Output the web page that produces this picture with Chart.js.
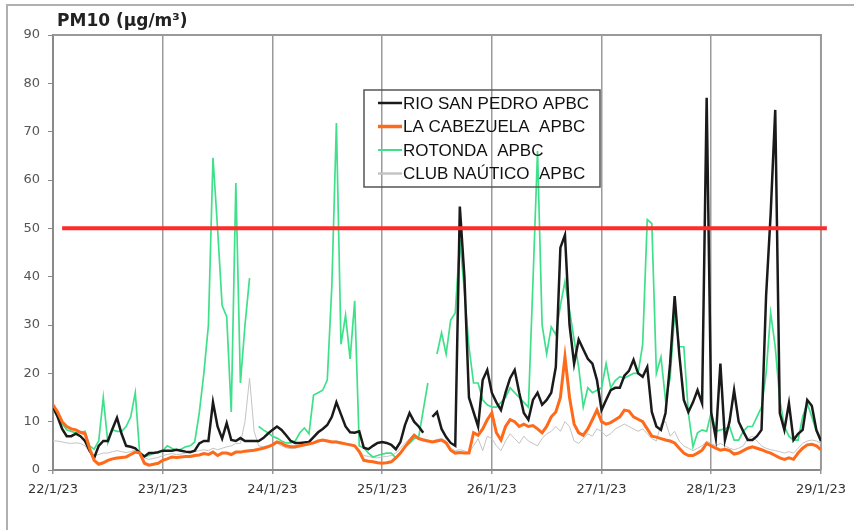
<!DOCTYPE html>
<html>
<head>
<meta charset="utf-8">
<script src="https://cdn.jsdelivr.net/npm/chart.js@4.4.0/dist/chart.umd.min.js"></script>
<style>
  html, body { margin: 0; padding: 0; background: #fff; overflow: hidden; }
  canvas { display: block; }
</style>
</head>
<body>
<canvas id="chart-pm10" width="854" height="530"></canvas>
<script>
// Tick labels (one per day, every 24 h)
const dayLabels = ['22/1/23', '23/1/23', '24/1/23', '25/1/23', '26/1/23', '27/1/23', '28/1/23', '29/1/23'];
const yTitle = 'PM10 (µg/m³)';
const seriesNames = ['RIO SAN PEDRO APBC', 'LA CABEZUELA  APBC', 'ROTONDA  APBC', 'CLUB NAÚTICO  APBC'];

// Hourly values, 22/1/23 00h .. 29/1/23 00h (one row per day)
const rioSanPedro = [
  13, 11, 8.5, 7, 7, 7.5, 7, 6, 4, 2.5, 5, 6, 6, 8.5, 10.8, 7.5, 5, 4.8, 4.5, 3.5, 2.8, 3.5, 3.5, 3.7,
  4, 4, 4, 4.2, 4, 3.8, 3.7, 4, 5.5, 6, 6, 14, 9, 6.5, 9.7, 6.2, 6, 6.6, 6, 6, 6, 6, 6.6, 7.5,
  8.3, 9, 8.3, 7.2, 6, 5.6, 5.6, 5.7, 5.8, 6.8, 7.8, 8.5, 9.3, 11, 14, 11.5, 9, 7.8, 7.7, 8, 4.6, 4.3, 5, 5.6,
  5.8, 5.6, 5.2, 4.3, 5.8, 9.3, 11.8, 10, 9, 7.7, null, 11, 12, 8.5, 6.8, 5.6, 5, 54.5, 40, 15, 12, 9, 18.6, 20.7,
  16, 14, 12.4, 16, 19, 20.7, 16, 11.8, 10.4, 14.5, 16, 13.5, 14.5, 16, 21.3, 46, 48.6, 30, 22, 27, 25, 23, 22, 18.6,
  12.4, 14.5, 16.5, 17, 17, 19.5, 20.5, 22.8, 20, 19.3, 21.3, 12, 9, 8.3, 11.8, 22, 36, 24, 14.5, 12, 14, 16.5, 13.8, 77,
  11.8, 6.6, 22, 6.2, 10, 16.5, 10, 8, 6.2, 6.2, 7, 8.3, 36, 53, 74.5, 11.8, 8.3, 13.8, 6.2, 7.5, 8.3, 14.5, 13.3, 8.3,
  6
];
const laCabezuela = [
  13.5, 12, 10, 9, 8.5, 8.3, 7.8, 7.5, 4.5, 2, 1.2, 1.5, 2, 2.3, 2.5, 2.6, 2.7, 3.2, 3.7, 3.5, 1.4, 1, 1.2, 1.4,
  2, 2.3, 2.7, 2.6, 2.7, 2.8, 2.8, 3, 3.1, 3.4, 3.2, 3.7, 3, 3.5, 3.5, 3.2, 3.7, 3.7, 3.9, 4, 4.1, 4.3, 4.5, 4.8,
  5.2, 5.8, 5.5, 5, 4.8, 4.8, 5, 5.2, 5.4, 5.6, 6, 6.2, 6, 5.8, 5.8, 5.6, 5.4, 5.2, 5, 3.8, 2, 1.8, 1.7, 1.5,
  1.4, 1.5, 1.7, 2.5, 3.5, 4.8, 6, 7.2, 6.5, 6.2, 6, 5.8, 6, 6.2, 5.6, 4.1, 3.5, 3.6, 3.5, 3.5, 7.7, 7.2, 8.5, 10.4,
  11.8, 7.7, 6.2, 9, 10.4, 10, 9, 9.5, 9, 9.2, 8.5, 7.7, 9, 11, 12, 15, 23.4, 15, 9.5, 7.7, 7.2, 8.5, 10.4, 12.4,
  10, 9.5, 9.8, 10.4, 11, 12.4, 12.2, 11, 10.5, 10, 8.5, 7, 6.8, 6.5, 6.2, 6, 5.6, 4.5, 3.5, 3, 3, 3.5, 4.1, 5.5,
  5, 4.5, 4.1, 4.3, 4, 3.3, 3.5, 4, 4.5, 4.8, 4.5, 4.2, 3.8, 3.5, 3, 2.5, 2.2, 2.5, 2.2, 3.5, 4.5, 5.2, 5.3, 5,
  4.2
];
const rotonda = [
  12.8, 11, 9.5, 8.3, 8, 7.7, 7.8, 8, 5, 4.3, 6, 15, 5.6, 8.3, 8, 8, 9, 11, 16, 3, 2.8, 3, 3.5, 3.5,
  4, 5, 4.5, 4.1, 4.3, 4.8, 5, 5.8, 11.8, 20, 30, 64.6, 50, 34, 31.7, 12, 59.4, 18, 30, 39.7, null, 9, 8.3, 7.7,
  7, 6.6, 6, 5.6, 5.6, 6, 7.7, 8.7, 7.5, 15.5, 16, 16.5, 18.6, 38, 71.8, 26, 32, 23, 35, 5, 4.6, 3.5, 2.7, 3,
  3.3, 3.5, 3.5, 2.5, 3.5, 4.8, 5.5, 6.5, 6.8, 12.4, 18, null, 24, 28.4, 24, 31, 32.5, 47.6, 37, 25.5, 18, 18, 14.5, 13.5,
  13, 13, 14, 15, 17, 16, 15, 14, 13, 39, 66, 30, 24, 29.6, 28, 34, 39, 33, 27, 21.3, 13, 17, 16, 16.5,
  17, 22, 17, 18.5, 19.3, 19, 19.5, 20, 20, 26, 51.8, 51, 20, 23.4, 14.5, 19, 32.5, 25.5, 25.5, 11.8, 4.8, 7.7, 8.3, 8,
  12, 8, 8.3, 8.5, 9, 6.2, 6.2, 8, 9, 9, 11, 13, 20, 32.5, 25.5, 14.5, 9, 7, 6.2, 6.2, 11, 13.8, 11, 8,
  6
];
const clubNautico = [
  6, 6, 5.8, 5.6, 5.5, 5.6, 5.5, 5, 3.7, 3, 3.2, 3.5, 3.5, 3.8, 4, 3.8, 3.6, 3.8, 4.2, 3.5, 2.5, 2.2, 2.4, 2.6,
  3, 3.2, 3.4, 3.2, 3.3, 3.5, 3.6, 3.8, 4, 4.2, 4, 4.5, 4.2, 4.5, 4.8, 5, 5.5, 5.5, 10, 19, 8, 5, 4.8, 5,
  5.2, 5.5, 5, 4.6, 4.4, 4.5, 4.8, 5, 5.2, 5.5, 5.8, 6, 6.2, 6, 6, 5.8, 5.5, 5.4, 5.2, 4, 3, 2.8, 2.6, 2.5,
  2.7, 2.8, 3, 3.5, 4.5, 5.5, 6.5, 7.5, 6.8, 6.5, 6.2, 6, 6.3, 6.5, 6, 4.5, 4, 4.2, 4, 3.5, 5, 6.5, 4, 7,
  6.5, 5, 4, 6, 7.5, 6.5, 5.5, 7, 6, 5.5, 5, 6.5, 7.5, 8, 9, 8, 10, 9, 6, 5.5, 6.5, 7.5, 7, 8.5,
  8, 7, 7.5, 8.5, 9, 9.5, 9, 8.5, 8, 8.5, 7.5, 6.5, 6, 9.5, 10, 7, 8, 6, 5, 4.5, 4, 4.5, 5, 6,
  5.5, 5, 5.5, 5, 4.5, 4.2, 4.5, 5, 6.5, 7, 6, 5, 4.5, 4.2, 4, 3.8, 3.5, 3.8, 3.5, 4.5, 5.5, 6, 6.2, 6,
  5.5
];
// Limit value (50 µg/m³) and the hours the red line spans
const limitValue = 50;
const limitSpan = [2, 169.3];

const COLORS = {
  rio: '#1a1a1a',
  cab: '#ff6a1a',
  rot: '#3fe08a',
  club: '#c4c4c4',
  limit: '#ff2a2a',
};

function toPoints(values) {
  return values.map((v, i) => ({ x: i, y: v }));
}

const legendItems = [
  { label: seriesNames[0], color: COLORS.rio, width: 2.5 },
  { label: seriesNames[1], color: COLORS.cab, width: 3.5 },
  { label: seriesNames[2], color: COLORS.rot, width: 2 },
  { label: seriesNames[3], color: COLORS.club, width: 2.5 },
];

// white page + grey frame around the figure
const framePlugin = {
  id: 'frame',
  beforeDraw(chart) {
    const ctx = chart.ctx;
    ctx.save();
    ctx.fillStyle = '#fff';
    ctx.fillRect(0, 0, chart.width, chart.height);
    ctx.strokeStyle = '#b0b0b0';
    ctx.lineWidth = 2;
    ctx.beginPath();
    ctx.moveTo(7, chart.height);
    ctx.lineTo(7, 5);
    ctx.lineTo(chart.width, 5);
    ctx.stroke();
    ctx.restore();
  },
  beforeDatasetsDraw(chart) {
    const { ctx, chartArea: a } = chart;
    ctx.save();
    ctx.strokeStyle = '#9a9a9a';
    ctx.lineWidth = 2;
    ctx.beginPath();
    ctx.moveTo(a.left, a.top);
    ctx.lineTo(a.right, a.top);
    ctx.lineTo(a.right, a.bottom);
    ctx.stroke();
    ctx.restore();
  },
  afterDraw(chart) {
    const { ctx, chartArea: a } = chart;
    ctx.save();
    // y axis title
    ctx.fillStyle = '#222';
    ctx.font = 'bold 17px "DejaVu Sans"';
    ctx.textBaseline = 'middle';
    ctx.textAlign = 'left';
    ctx.fillText(yTitle, a.left + 4, a.top - 13);

    // legend (transparent box)
    const bx = 364, by = 90, bw = 236, bh = 97;
    ctx.strokeStyle = '#555';
    ctx.lineWidth = 1.5;
    ctx.strokeRect(bx, by, bw, bh);
    ctx.font = '17px "Liberation Sans"';
    ctx.fillStyle = '#111';
    legendItems.forEach((it, i) => {
      const y = by + 13 + i * 23.5;
      ctx.strokeStyle = it.color;
      ctx.lineWidth = it.width;
      ctx.beginPath();
      ctx.moveTo(bx + 14, y);
      ctx.lineTo(bx + 38, y);
      ctx.stroke();
      ctx.fillText(it.label, bx + 39, y + 1);
    });
    ctx.restore();
  },
};

const lineStyle = { pointRadius: 0, tension: 0, fill: false, spanGaps: false };

new Chart(document.getElementById('chart-pm10'), {
  type: 'line',
  data: {
    datasets: [
      {
        label: 'limit',
        data: limitSpan.map((h) => ({ x: h, y: limitValue })),
        borderColor: COLORS.limit,
        borderWidth: 4,
        clip: false,
        ...lineStyle,
      },
      { label: seriesNames[1], data: toPoints(laCabezuela), borderColor: COLORS.cab, borderWidth: 3, ...lineStyle },
      { label: seriesNames[0], data: toPoints(rioSanPedro), borderColor: COLORS.rio, borderWidth: 2.5, ...lineStyle },
      { label: seriesNames[2], data: toPoints(rotonda), borderColor: COLORS.rot, borderWidth: 1.7, ...lineStyle },
      { label: seriesNames[3], data: toPoints(clubNautico), borderColor: COLORS.club, borderWidth: 1, ...lineStyle },
    ],
  },
  options: {
    responsive: false,
    animation: false,
    layout: { padding: { left: 0, right: 32, top: 35, bottom: 0 } },
    plugins: { legend: { display: false }, tooltip: { enabled: false } },
    scales: {
      x: {
        type: 'linear',
        min: 0,
        max: 168,
        afterFit: (s) => { s.height = 60; },
        grid: { color: '#9a9a9a', lineWidth: 1.5, tickLength: 4, drawOnChartArea: true },
        border: { color: '#8a8a8a', width: 2 },
        ticks: {
          stepSize: 24,
          autoSkip: false,
          maxRotation: 0,
          padding: 8,
          color: '#333',
          font: { family: 'DejaVu Sans', size: 13 },
          callback: (v) => dayLabels[v / 24],
        },
      },
      y: {
        min: 0,
        max: 90,
        afterFit: (s) => { s.width = 53; },
        grid: { drawOnChartArea: false, color: '#8a8a8a', tickLength: 5 },
        border: { color: '#8a8a8a', width: 2 },
        ticks: {
          stepSize: 10,
          padding: 8,
          color: '#555',
          font: { family: 'DejaVu Sans', size: 13 },
        },
      },
    },
  },
  plugins: [framePlugin],
});
</script>
</body>
</html>
